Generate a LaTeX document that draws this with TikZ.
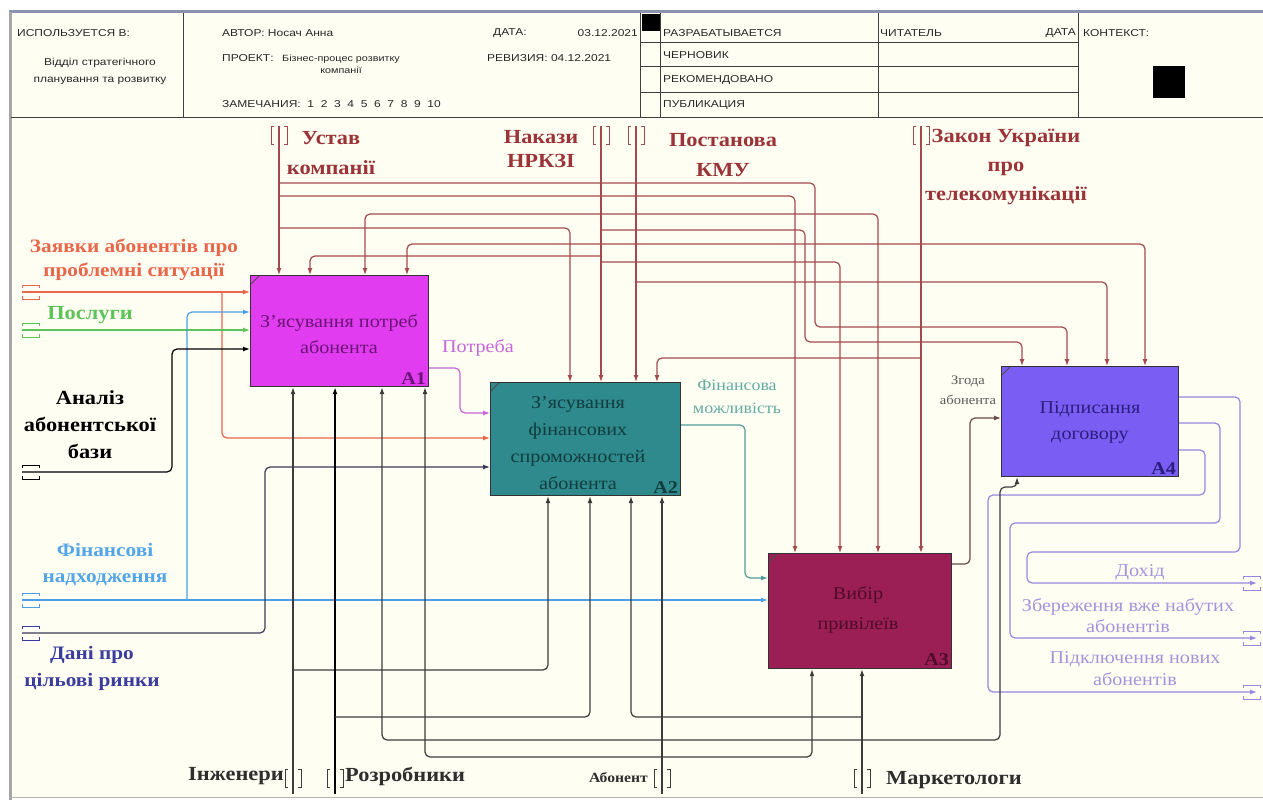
\documentclass[tikz,border=0pt]{standalone}
\usepackage{fontspec}
\setmainfont{Liberation Serif}
\newfontfamily\lblfont[FakeStretch=1.12]{Liberation Serif}
\newfontfamily\hdrfont[FakeStretch=1.2]{Liberation Sans}
\usetikzlibrary{arrows.meta,calc}
\definecolor{bg}{HTML}{FFFEF2}
\definecolor{ctl}{HTML}{A34A4E}
\definecolor{ctltxt}{HTML}{9A3438}
\definecolor{req}{HTML}{E8664A}
\definecolor{srv}{HTML}{5EC45A}
\definecolor{fin}{HTML}{4C9EE6}
\definecolor{fintxt}{HTML}{52A6E8}
\definecolor{mkt}{HTML}{3A3C9E}
\definecolor{mktln}{HTML}{3A3A5A}
\definecolor{mech}{HTML}{3C3C3C}
\definecolor{mechtxt}{HTML}{2E2E2E}
\definecolor{need}{HTML}{C765DA}
\definecolor{fpos}{HTML}{4F9E98}
\definecolor{fpostxt}{HTML}{62ACA4}
\definecolor{agree}{HTML}{6A4A4A}
\definecolor{outc}{HTML}{9787E0}
\definecolor{outtxt}{HTML}{A394DC}
\definecolor{boxa}{HTML}{E23CF0}
\definecolor{boxb}{HTML}{2E8A8D}
\definecolor{boxc}{HTML}{9B1F55}
\definecolor{boxd}{HTML}{7A5DF2}
\definecolor{txa}{HTML}{6A1476}
\definecolor{txb}{HTML}{123C3E}
\definecolor{txc}{HTML}{4E0C2A}
\definecolor{txd}{HTML}{2C1E7E}
\definecolor{framebar}{HTML}{8A94AE}
\newcommand\tunV[3]{%
  \draw[#1,line width=0.9pt] (#2-5,#3-9) -- (#2-8,#3-9) -- (#2-8,#3+9) -- (#2-5,#3+9)
        (#2+5,#3-9) -- (#2+8,#3-9) -- (#2+8,#3+9) -- (#2+5,#3+9);}
\newcommand\tunH[3]{%
  \draw[#1,line width=0.9pt] (#2,#3-4) -- (#2,#3-7) -- (#2+17,#3-7) -- (#2+17,#3-4)
        (#2,#3+4) -- (#2,#3+7) -- (#2+17,#3+7) -- (#2+17,#3+4);}
\begin{document}
\begin{tikzpicture}[x=1pt,y=-1pt,
  conn/.style={line width=1.2pt, rounded corners=5pt, -{Latex[length=7pt,width=5pt]}},
  box/.style={draw=black!80, line width=1.2pt, anchor=north west, inner sep=0pt},
  btxt/.style={font=\lblfont\fontsize{18}{26}\selectfont, align=center, inner sep=0pt},
  bnum/.style={font=\lblfont\bfseries\fontsize{18}{18}\selectfont, anchor=south east, inner sep=3pt},
  lbl/.style={font=\lblfont\bfseries\fontsize{20}{28}\selectfont, align=center, inner sep=0pt},
  nlbl/.style={font=\lblfont\fontsize{18}{22}\selectfont, align=center, inner sep=0pt},
  hdr/.style={font=\hdrfont\fontsize{10}{12}\selectfont, anchor=west, inner sep=0pt, text=black!85},
  hline/.style={black!75, line width=1pt}
]
\useasboundingbox (0,0) rectangle (1263,800);
\fill[white] (0,0) rectangle (1263,800);
\fill[bg] (11,13) rectangle (1263,797);
\draw[framebar, line width=3pt] (9,12) -- (1263,12);
\draw[gray!70, line width=3pt] (10,12) -- (10,800);
\draw[gray!60, line width=1pt] (10,797) -- (1263,797);

% ---------- header ----------
\draw[hline] (11,117) -- (1263,117);
\draw[hline] (183,13) -- (183,117) (640,13) -- (640,117) (660,13) -- (660,117)
             (878,13) -- (878,117) (1078,13) -- (1078,117);
\draw[hline] (640,43) -- (1078,43) (640,67) -- (1078,67) (640,92) -- (1078,92);
\fill[black] (642,14) rectangle (660,31);
\fill[black] (1153,66) rectangle (1185,98);
\node[hdr] (h1) at (17,33) {ИСПОЛЬЗУЕТСЯ В:};
\node[hdr, anchor=center, align=center, font=\hdrfont\fontsize{10}{17}\selectfont] (h2) at (100,71) {Відділ стратегічного\\планування та розвитку};
\node[hdr] (h3) at (222,33) {АВТОР: Носач Анна};
\node[hdr] (h4) at (493,33) {ДАТА:};
\node[hdr, anchor=east] (h5) at (638,33) {03.12.2021};
\node[hdr] (h6) at (222,58) {ПРОЕКТ:};
\node[hdr, anchor=center, align=center, font=\hdrfont\fontsize{9}{12}\selectfont] (h7) at (341,64) {Бізнес-процес розвитку\\компанії};
\node[hdr] (h8) at (487,58) {РЕВИЗИЯ: 04.12.2021};
\node[hdr] (h9) at (222,104) {ЗАМЕЧАНИЯ:\ \ 1\ \ 2\ \ 3\ \ 4\ \ 5\ \ 6\ \ 7\ \ 8\ \ 9\ \ 10};
\node[hdr] (h10) at (663,33) {РАЗРАБАТЫВАЕТСЯ};
\node[hdr] (h11) at (663,55) {ЧЕРНОВИК};
\node[hdr] (h12) at (663,80) {РЕКОМЕНДОВАНО};
\node[hdr] (h13) at (663,105) {ПУБЛИКАЦИЯ};
\node[hdr] (h14) at (880,33) {ЧИТАТЕЛЬ};
\node[hdr, anchor=east] (h15) at (1076,33) {ДАТА};
\node[hdr] (h16) at (1083,33) {КОНТЕКСТ:};

% ---------- boxes ----------
\node[box, fill=boxa, minimum width=178pt, minimum height=111pt] (A1) at (250,275) {};
\node[box, fill=boxb, minimum width=190pt, minimum height=113pt] (A2) at (490,382) {};
\node[box, fill=boxc, minimum width=183pt, minimum height=115pt] (A3) at (768,553) {};
\node[box, fill=boxd, minimum width=177pt, minimum height=110pt] (A4) at (1001,366) {};
\foreach \b in {A1,A2,A3,A4}
  \draw[black!70, line width=1pt] ($(\b.north west)+(1,9)$) -- ($(\b.north west)+(9,1)$);
\node[btxt, text=txa] (A1t) at (339,334) {З’ясування потреб\\абонента};
\node[btxt, text=txb, font=\lblfont\fontsize{18}{27}\selectfont] (A2t) at (578,443) {З’ясування\\фінансових\\спроможностей\\абонента};
\node[btxt, text=txc, font=\lblfont\fontsize{18}{30}\selectfont] (A3t) at (858,610) {Вибір\\привілеїв};
\node[btxt, text=txd] (A4t) at (1090,422) {Підписання\\договору};
\node[bnum, text=txa] (A1n) at (A1.south east) {A1};
\node[bnum, text=txb] (A2n) at (A2.south east) {A2};
\node[bnum, text=txc] (A3n) at (A3.south east) {A3};
\node[bnum, text=txd] (A4n) at (A4.south east) {A4};

% ---------- controls ----------
\coordinate (U0) at (279,126); \coordinate (U1) at (279,183);
\coordinate (U2) at (279,196); \coordinate (U3) at (279,228);
\coordinate (N0) at (601,126); \coordinate (N1) at (601,256);
\coordinate (N2) at (601,262); \coordinate (N3) at (601,230);
\coordinate (P0) at (636,126); \coordinate (P1) at (636,214); \coordinate (P2) at (636,282);
\coordinate (Z0) at (921,126); \coordinate (Z1) at (921,244); \coordinate (Z2) at (921,358);
\begin{scope}[every path/.style={conn, draw=ctl}]
\draw (U0) -- ($(A1.north west)+(29,0)$);
\draw (U1) -| (815,327) -| ($(A4.north west)+(66,0)$);
\draw (U2) -| ($(A3.north west)+(27,0)$);
\draw (U3) -| ($(A2.north west)+(80,0)$);
\draw (N0) -- ($(A2.north west)+(111,0)$);
\draw (N1) -| ($(A1.north west)+(60,0)$);
\draw (N2) -| ($(A3.north west)+(72,0)$);
\draw (N3) -| (805,342) -| ($(A4.north west)+(21,0)$);
\draw (P0) -- ($(A2.north west)+(146,0)$);
\draw (P1) -| ($(A1.north west)+(115,0)$);
\draw (P1) -| ($(A3.north west)+(110,0)$);
\draw (P2) -| ($(A4.north west)+(106,0)$);
\draw (Z0) -- ($(A3.north west)+(153,0)$);
\draw (Z1) -| ($(A1.north west)+(157,0)$);
\draw (Z1) -| ($(A4.north west)+(144,0)$);
\draw (Z2) -| ($(A2.north west)+(167,0)$);
\end{scope}
\tunV{ctl}{279}{135}
\tunV{ctl}{601}{135}
\tunV{ctl}{636}{135}
\tunV{ctl}{921}{135}
\node[lbl, text=ctltxt, font=\lblfont\bfseries\fontsize{20}{30}\selectfont] (tU) at (331,153) {Устав\\компанії};
\node[lbl, text=ctltxt, font=\lblfont\bfseries\fontsize{20}{24}\selectfont] (tN) at (541,149) {Накази\\НРКЗІ};
\node[lbl, text=ctltxt, font=\lblfont\bfseries\fontsize{20}{30}\selectfont] (tP) at (723,155) {Постанова\\КМУ};
\node[lbl, text=ctltxt, font=\lblfont\bfseries\fontsize{20}{29}\selectfont] (tZ) at (1006,167) {Закон України\\про\\телекомунікації};

% ---------- inputs ----------
\coordinate (L1) at (22,292); \coordinate (L1b) at (222,292);
\coordinate (L2) at (22,330);
\coordinate (L3) at (22,600); \coordinate (L3b) at (187,600);
\coordinate (L4) at (22,472);
\coordinate (L5) at (22,633);
\draw[conn, draw=req] (L1) -- ($(A1.north west)+(0,17)$);
\draw[conn, draw=req] (L1b) |- ($(A2.north west)+(0,56)$);
\draw[conn, draw=srv] (L2) -- ($(A1.north west)+(0,55)$);
\draw[conn, draw=fin] (L3) -- ($(A3.north west)+(0,47)$);
\draw[conn, draw=fin] (L3b) |- ($(A1.north west)+(0,37)$);
\draw[conn, draw=black] (L4) -| (172,349) -- ($(A1.north west)+(0,74)$);
\draw[conn, draw=mktln] (L5) -| (265,467) -- ($(A2.north west)+(0,85)$);
\tunH{req}{22}{292}
\tunH{srv}{22}{330}
\tunH{fin}{22}{600}
\tunH{black}{22}{472}
\tunH{mkt}{22}{633}
\node[lbl, text=req, font=\lblfont\bfseries\fontsize{19}{24}\selectfont] (tL1) at (134,260) {Заявки абонентів про\\проблемні ситуації};
\node[lbl, text=srv] (tL2) at (90,315) {Послуги};
\node[lbl, text=black, font=\lblfont\bfseries\fontsize{20}{27}\selectfont] (tL4) at (90,425) {Аналіз\\абонентської\\бази};
\node[lbl, text=fintxt, font=\lblfont\bfseries\fontsize{19}{26}\selectfont] (tL3) at (105,565) {Фінансові\\надходження};
\node[lbl, text=mkt, font=\lblfont\bfseries\fontsize{19}{27}\selectfont] (tL5) at (92,668) {Дані про\\цільові ринки};

% ---------- internal ----------
\draw[conn, draw=need] ($(A1.north east)+(0,93)$) -| (460,413) -- ($(A2.north west)+(0,31)$);
\draw[conn, draw=fpos] ($(A2.north east)+(0,43)$) -| (745,578) -- ($(A3.north west)+(0,25)$);
\draw[conn, draw=agree] ($(A3.north east)+(0,11)$) -| (970,418) -- ($(A4.north west)+(0,52)$);
\node[nlbl, text=need] (tNeed) at (478,348) {Потреба};
\node[nlbl, text=fpostxt, font=\lblfont\fontsize{16}{23}\selectfont] (tFin) at (737,397) {Фінансова\\можливість};
\node[nlbl, text=black!65, font=\lblfont\fontsize{13}{20}\selectfont] (tAgr) at (968,390) {Згода\\абонента};

% ---------- outputs ----------
\coordinate (O1) at (1257,583); \coordinate (O2) at (1257,638); \coordinate (O3) at (1257,692);
\draw[conn, draw=outc] ($(A4.north east)+(0,31)$) -| (1240,552) -| (1027,583) -- (O1);
\draw[conn, draw=outc] ($(A4.north east)+(0,57)$) -| (1220,523) -| (1010,638) -- (O2);
\draw[conn, draw=outc] ($(A4.north east)+(0,84)$) -| (1205,495) -| (988,692) -- (O3);
\tunH{outc}{1243}{583}
\tunH{outc}{1243}{638}
\tunH{outc}{1243}{692}
\node[nlbl, text=outtxt] (tO1) at (1140,572) {Дохід};
\node[nlbl, text=outtxt, font=\lblfont\fontsize{18}{21}\selectfont] (tO2) at (1128,616) {Збереження вже набутих\\абонентів};
\node[nlbl, text=outtxt, font=\lblfont\fontsize{18}{22}\selectfont] (tO3) at (1135,669) {Підключення нових\\абонентів};

% ---------- mechanisms ----------
\coordinate (M1) at (293,794); \coordinate (M1b) at (293,670);
\coordinate (M2) at (335,794); \coordinate (M2b) at (335,717);
\coordinate (M3) at (662,794); \coordinate (M3b) at (662,757);
\coordinate (M4) at (862,794); \coordinate (M4b) at (862,740); \coordinate (M4c) at (862,717);
\begin{scope}[every path/.style={conn, draw=mech}]
\draw (M1) -- ($(A1.south west)+(43,0)$);
\draw (M1b) -| ($(A2.south west)+(58,0)$);
\draw[line width=2pt, draw=black] (M2) -- ($(A1.south west)+(85,0)$);
\draw (M2b) -| ($(A2.south west)+(100,0)$);
\draw (M3) -- ($(A2.south west)+(172,0)$);
\draw (M3b) -| ($(A1.south west)+(175,0)$);
\draw (M3b) -| ($(A3.south west)+(44,0)$);
\draw (M4) -- ($(A3.south west)+(94,0)$);
\draw (M4b) -| ($(A1.south west)+(132,0)$);
\draw (M4b) -| (1000,487) -| ($(A4.south west)+(16,0)$);
\draw (M4c) -| ($(A2.south west)+(141,0)$);
\end{scope}
\tunV{mech}{293}{778}
\tunV{mech}{335}{778}
\tunV{mech}{662}{778}
\tunV{mech}{862}{778}
\node[lbl, text=mechtxt, anchor=east] (tM1) at (284,776) {Інженери};
\node[lbl, text=mechtxt, anchor=west] (tM2) at (345,776) {Розробники};
\node[lbl, text=mechtxt, anchor=east, font=\lblfont\bfseries\fontsize{14}{16}\selectfont] (tM3) at (648,778) {Абонент};
\node[lbl, text=mechtxt, anchor=west] (tM4) at (886,780) {Маркетологи};
\end{tikzpicture}
\end{document}
